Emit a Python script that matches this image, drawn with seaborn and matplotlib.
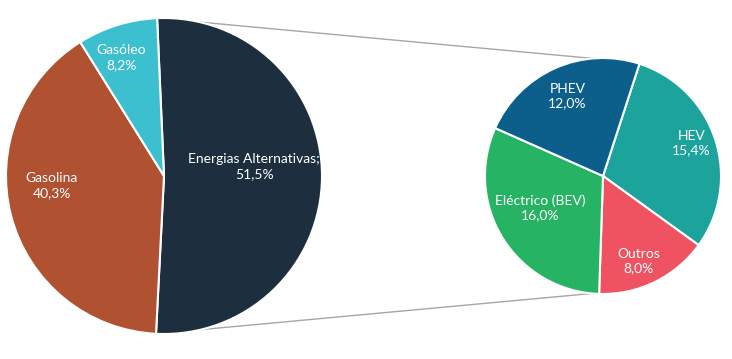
import matplotlib
matplotlib.use("Agg")
import matplotlib.pyplot as plt
import seaborn as sns
import numpy as np

# ==============================
# Dados
# ==============================
main_labels = ["Energias Alternativas;", "Gasolina", "Gasóleo"]
main_values = [51.5, 40.3, 8.2]
main_colors = ["#1d2f3e", "#b05131", "#3cbfcf"]

alt_labels = ["HEV", "Outros", "Eléctrico (BEV)", "PHEV"]
alt_values = [15.4, 8.0, 16.0, 12.0]
alt_colors = ["#1ba39c", "#ef5362", "#26b363", "#0b5f8a"]

# posições dos rótulos (relativas ao raio de cada pie)
main_label_pos = [(0.57, 0.06), (-0.71, -0.06), (-0.27, 0.75)]
alt_label_pos = [(0.75, 0.28), (0.30, -0.72), (-0.53, -0.27), (-0.30, 0.68)]

sns.set_theme(style="white")
plt.rcParams["font.family"] = ["Lato", "DejaVu Sans"]

W, H = 732, 359
fig = plt.figure(figsize=(W / 100, H / 100), dpi=100)
ax = fig.add_axes([0, 0, 1, 1])

c1, r1, start1 = (164, H - 176), 158, 92.5
c2, r2, start2 = (603, H - 176), 118, 72


def fmt(v):
    return f"{v:.1f}".replace(".", ",") + "%"


# pontos das fronteiras da fatia "Energias Alternativas"
a_top = np.radians(start1)
a_bot = np.radians(start1 - 360 * main_values[0] / sum(main_values))
p_top = (c1[0] + r1 * np.cos(a_top), c1[1] + r1 * np.sin(a_top))
p_bot = (c1[0] + r1 * np.cos(a_bot), c1[1] + r1 * np.sin(a_bot))

# linhas de ligação entre os dois gráficos
ax.plot([p_top[0], c2[0] - 4], [p_top[1], c2[1] + r2 - 1], color="#a6a6a6", lw=1, zorder=0)
ax.plot([p_bot[0], c2[0] - 6], [p_bot[1], c2[1] - r2 + 1], color="#a6a6a6", lw=1, zorder=0)

ax.pie(main_values, colors=main_colors, startangle=start1, counterclock=False,
       center=c1, radius=r1, frame=True,
       wedgeprops=dict(edgecolor="white", linewidth=1.5))
ax.pie(alt_values, colors=alt_colors, startangle=start2, counterclock=False,
       center=c2, radius=r2, frame=True,
       wedgeprops=dict(edgecolor="white", linewidth=1.5))
ax.set_xlim(0, W)
ax.set_ylim(0, H)
ax.set_aspect("equal")
ax.axis("off")

for lab, v, (dx, dy) in zip(main_labels, main_values, main_label_pos):
    ax.text(c1[0] + dx * r1, c1[1] + dy * r1, f"{lab}\n{fmt(v)}", color="white",
            ha="center", va="center", fontsize=10, linespacing=1.25)

for lab, v, (dx, dy) in zip(alt_labels, alt_values, alt_label_pos):
    ax.text(c2[0] + dx * r2, c2[1] + dy * r2, f"{lab}\n{fmt(v)}", color="white",
            ha="center", va="center", fontsize=10, linespacing=1.25)

fig.savefig("out.png", dpi=100, facecolor="white")
